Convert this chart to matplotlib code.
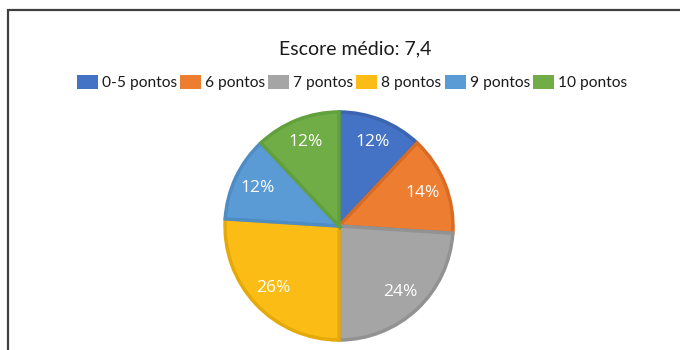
import matplotlib.pyplot as plt
from matplotlib.patches import Rectangle

plt.rcParams['font.family'] = ['Open Sans', 'DejaVu Sans']
fonte_texto = ['Lato', 'DejaVu Sans']

categorias = ["0-5 pontos", "6 pontos", "7 pontos", "8 pontos", "9 pontos", "10 pontos"]
percentuais = [12, 14, 24, 26, 12, 12]
cores = ["#4472C4", "#ED7D31", "#A5A5A5", "#FBBC16", "#5B9BD5", "#70AD47"]
bordas = ["#3B65B0", "#D86C25", "#929292", "#E6AA08", "#4E8CC4", "#62A03C"]
titulo = "Escore médio: 7,4"

W, H = 680, 350
fig = plt.figure(figsize=(W / 100, H / 100), dpi=100)

# moldura (só esquerda e topo aparecem)
fig.patches.append(Rectangle((8 / W, -0.1), 1.2, (340 / H) + 0.1,
                             transform=fig.transFigure, fill=False,
                             edgecolor="#404040", linewidth=1.6))

r = 114
cx, cy = 339, H - 226
ax = fig.add_axes([(cx - r) / W, (cy - r) / H, 2 * r / W, 2 * r / H])
wedges, textos, autotextos = ax.pie(
    percentuais, colors=cores, startangle=90, counterclock=False,
    autopct="%d%%", pctdistance=0.79,
    wedgeprops=dict(linewidth=2.5),
    textprops=dict(color="white", fontsize=12.5))
for w, b in zip(wedges, bordas):
    w.set_edgecolor(b)
ax.set_xlim(-1, 1)
ax.set_ylim(-1, 1)
ax.set_aspect("equal")
ax.axis("off")

fig.text(355 / W, 1 - 54 / H, titulo, ha="center", va="baseline", fontsize=14,
         color="#1a1a1a", family=fonte_texto)

handles = [Rectangle((0, 0), 1, 1, facecolor=c) for c in cores]
fig.legend(handles, categorias, loc="center", bbox_to_anchor=(352 / W, 1 - 82.5 / H),
           ncol=6, frameon=False, handlelength=1.35, handleheight=1.05,
           handletextpad=0.25, columnspacing=0.2, borderpad=0,
           prop=dict(family=fonte_texto, size=11.2))
for t in fig.legends[0].get_texts():
    t.set_color("#1a1a1a")

fig.savefig("out.png", dpi=100)
